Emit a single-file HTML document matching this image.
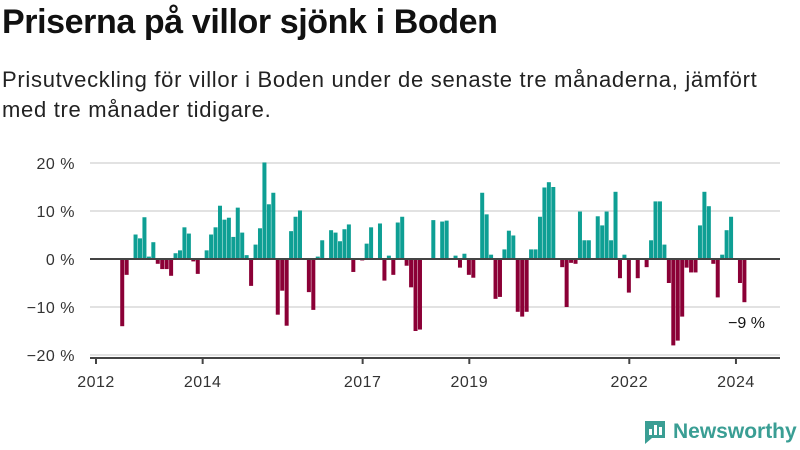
<!DOCTYPE html>
<html><head><meta charset="utf-8"><style>
body{margin:0;width:800px;height:450px;background:#fff;font-family:"Liberation Sans","DejaVu Sans",sans-serif;overflow:hidden;position:relative}
h1{position:absolute;left:2px;top:3px;margin:0;font-size:34px;font-weight:bold;color:#111;letter-spacing:-0.4px}
p{position:absolute;left:2px;top:65px;margin:0;font-size:22px;line-height:30px;color:#222;width:796px;letter-spacing:0.7px}
svg{position:absolute;left:0;top:0}
</style></head><body>
<h1>Priserna på villor sjönk i Boden</h1>
<p>Prisutveckling för villor i Boden under de senaste tre månaderna, jämfört<br>med tre månader tidigare.</p>
<svg id="c" width="800" height="450"></svg>
<script>
const startYear = 2012, startMonth = 5;
const values = [-14,-3.3,0,5.1,4.3,8.7,0.5,3.5,-1,-2.1,-2.1,-3.5,1.2,1.8,6.6,5.3,-0.5,-3.1,0,1.8,5.1,6.6,11.1,8.2,8.6,4.6,10.7,5.5,0.8,-5.6,3.0,6.4,20.1,11.4,13.8,-11.6,-6.6,-13.9,5.8,8.8,10.1,0,-6.9,-10.6,0.5,
3.9,0,6.0,5.5,3.7,6.2,7.2,-2.7,0,-0.3,3.2,6.6,0,7.4,-4.5,0.7,-3.3,7.6,8.8,-1.4,-5.9,-15,-14.7,0,0.2,8.1,0,7.8,8.0,0,0.7,-1.8,1.1,-3.3,-3.9,0,13.8,9.3,0.9,-8.3,-7.9,2.0,5.9,4.9,-11,-12,-11,2.0,2.0,8.8,
14.9,16,15,0,-1.7,-10,-0.8,-1.0,9.9,3.9,3.9,0,8.9,7.0,9.9,3.9,14,-4,0.9,-7,0,-4,0,-1.7,3.9,12,12,3,-5,-18,-17,-12,-1.8,-2.8,-2.8,7,14,11,-1,-8,0.9,6,8.8,0,-5,-9];
const yTicks = [20,10,0,-10,-20];
const yTickLabels = ["20 %","10 %","0 %","\u221210 %","\u221220 %"];
const xTicks = [2012,2014,2017,2019,2022,2024];
const lastLabel = "\u22129 %";
const NS="http://www.w3.org/2000/svg", svg=document.getElementById('c');
const x = yr => 96 + (yr-2012)*53.33;
const y = v => 259 - v*4.8;
function mk(t,a){const e=document.createElementNS(NS,t);for(const k in a)e.setAttribute(k,a[k]);svg.appendChild(e);return e;}
yTicks.forEach((t,i)=>{
  const g=mk('line',{x1:90,x2:780,y1:y(t),y2:y(t),stroke:t===0?'#444':'#e2e2e2','stroke-width':2});
  
  
  const l=mk('text',{x:75,y:y(t)+6,'text-anchor':'end','font-size':16,fill:'#333','letter-spacing':0.5});
  l.textContent=yTickLabels[i];
  
  
});
values.forEach((v,i)=>{
  const m=startMonth+i, cx=x(startYear+(m+0.9)/12);
  const r=mk('rect',{x:cx-2,width:4,y:Math.min(y(v),y(0)),height:Math.abs(y(v)-y(0)),fill:v>=0?'#0e9f94':'#8b0036'});
  
  
});
const zl=mk('line',{x1:90,x2:780,y1:y(0),y2:y(0),stroke:'#444','stroke-width':2});


const ax=mk('line',{x1:90,x2:780,y1:358,y2:358,stroke:'#444','stroke-width':2});


xTicks.forEach(t=>{
  const tk=mk('line',{x1:x(t),x2:x(t),y1:358,y2:364,stroke:'#444','stroke-width':2});
  
  
  const l=mk('text',{x:x(t),y:387,'text-anchor':'middle','font-size':16,fill:'#333','letter-spacing':0.5});
  l.textContent=t;
  
  
});
const ll=mk('text',{x:765,y:328,'text-anchor':'end','font-size':16,fill:'#111'});
ll.textContent=lastLabel;


</script>
<div style="position:absolute;left:642px;top:419px;display:flex;align-items:center">
<svg width="26" height="26" viewBox="0 0 26 26" style="position:static"><path d="M3 2h20v17H10l-7 6z" fill="#3a9e94"/><rect x="7" y="10" width="3" height="6" fill="#fff"/><rect x="12" y="6" width="3" height="10" fill="#fff"/><rect x="17" y="8" width="3" height="8" fill="#fff"/></svg>
<span style="margin-left:5px;font-size:21px;font-weight:bold;color:#3a9e94">Newsworthy</span></div>
</body></html>
